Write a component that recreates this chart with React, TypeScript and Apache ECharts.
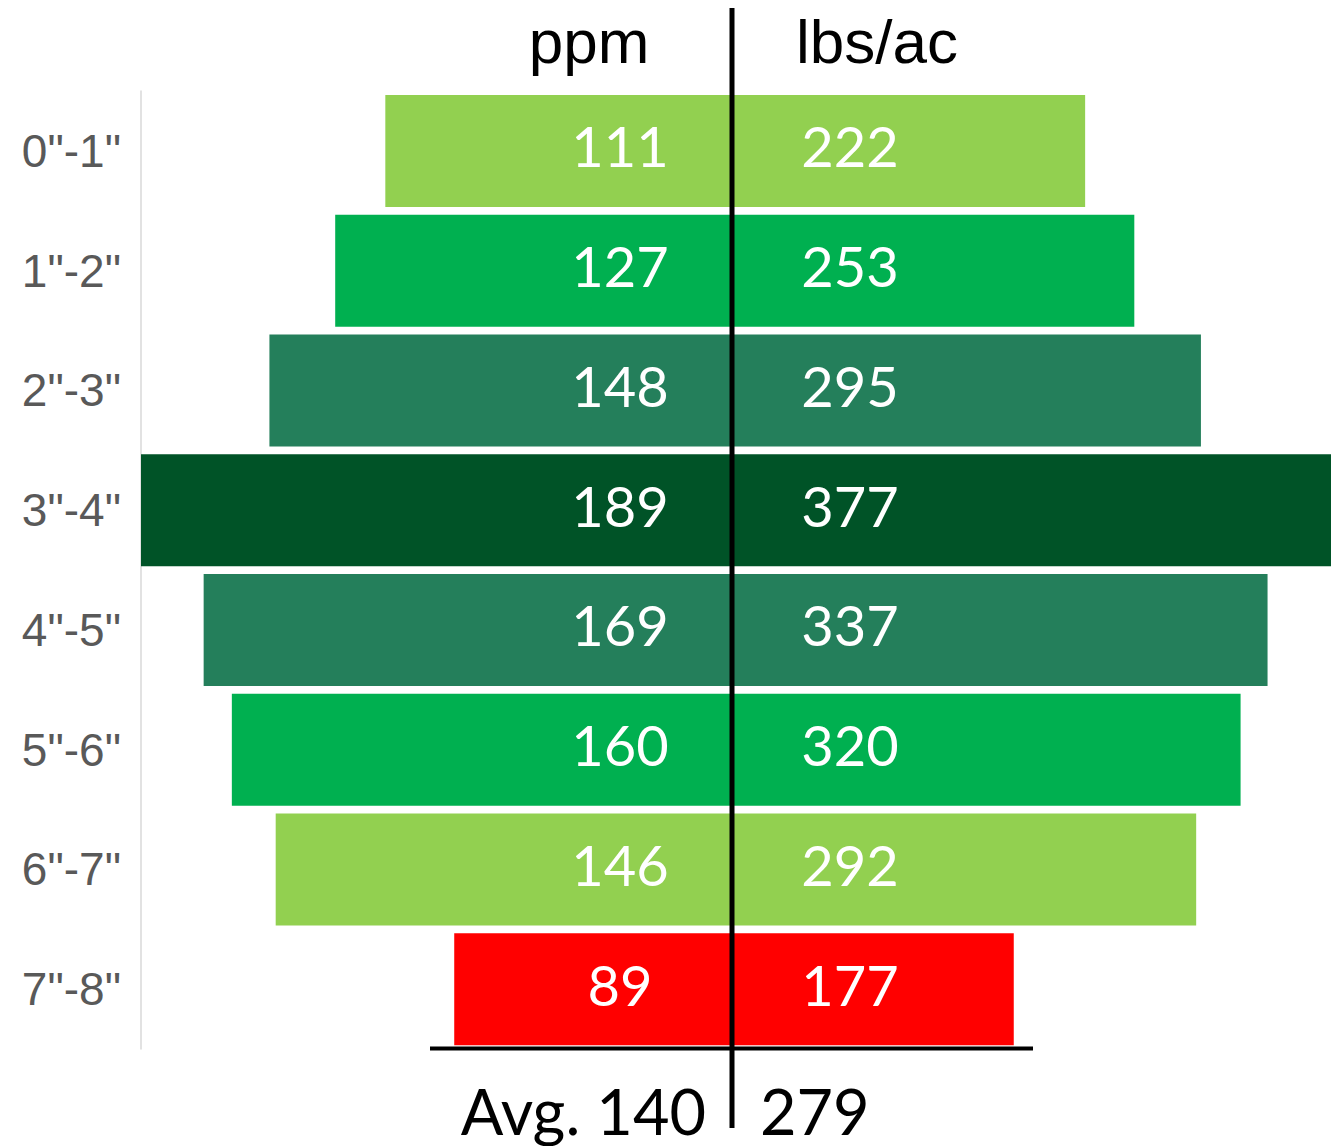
import React, { useEffect, useRef } from "react";
import * as echarts from "echarts";

const categories = ['0"-1"', '1"-2"', '2"-3"', '3"-4"', '4"-5"', '5"-6"', '6"-7"', '7"-8"'];
const ppmValues = [111, 127, 148, 189, 169, 160, 146, 89];
const lbsValues = [222, 253, 295, 377, 337, 320, 292, 177];
const avgPpm = 140;
const avgLbs = 279;
const rowColors = ["#92D050", "#00B050", "#247F5B", "#005327", "#247F5B", "#00B050", "#92D050", "#FF0000"];

const LABEL_FONT = "Lato, 'Open Sans', sans-serif";
const AXIS_FONT = "'Liberation Sans', Arial, sans-serif";

export default function App() {
  const ref = useRef<HTMLDivElement>(null);
  useEffect(() => {
    if (!ref.current) return;
    const chart = echarts.init(ref.current, undefined, { renderer: "svg" });
    const top = 91;
    const height = 958;
    const center = 733;
    chart.setOption({
      animation: false,
      backgroundColor: "#ffffff",
      grid: [
        { left: 141, top, width: center - 141, height },
        { left: center, top, width: 1331 - center, height },
      ],
      xAxis: [
        { gridIndex: 0, type: "value", min: 0, max: 189, inverse: true, show: false },
        { gridIndex: 1, type: "value", min: 0, max: 377, show: false },
      ],
      yAxis: [
        {
          gridIndex: 0,
          type: "category",
          data: categories,
          inverse: true,
          position: "left",
          axisLine: { show: true, onZero: false, lineStyle: { color: "#D9D9D9", width: 1.5 } },
          axisTick: { show: false },
          axisLabel: { fontSize: 46, color: "#595959", fontFamily: AXIS_FONT, margin: 20 },
          splitLine: { show: false },
        },
        {
          gridIndex: 1,
          type: "category",
          data: categories,
          inverse: true,
          show: false,
        },
      ],
      series: [
        {
          type: "bar",
          xAxisIndex: 0,
          yAxisIndex: 0,
          barWidth: 112,
          data: ppmValues.map((v, i) => ({ value: v, itemStyle: { color: rowColors[i] } })),
          label: {
            show: true,
            position: "insideRight",
            distance: 113,
            align: "center",
            verticalAlign: "middle",
            offset: [0, -5],
            color: "#ffffff",
            fontSize: 56,
            fontFamily: LABEL_FONT,
          },
        },
        {
          type: "bar",
          xAxisIndex: 1,
          yAxisIndex: 1,
          barWidth: 112,
          data: lbsValues.map((v, i) => ({ value: v, itemStyle: { color: rowColors[i] } })),
          label: {
            show: true,
            position: "insideLeft",
            distance: 117,
            align: "center",
            verticalAlign: "middle",
            offset: [0, -5],
            color: "#ffffff",
            fontSize: 56,
            fontFamily: LABEL_FONT,
          },
        },
      ],
      graphic: [
        {
          type: "text",
          z: 100,
          style: { text: "ppm", x: 589, y: 41, align: "center", verticalAlign: "middle", fill: "#000", font: `62px ${AXIS_FONT}` },
        },
        {
          type: "text",
          z: 100,
          style: { text: "lbs/ac", x: 877, y: 41, align: "center", verticalAlign: "middle", fill: "#000", font: `62px ${AXIS_FONT}` },
        },
        {
          type: "line",
          z: 100,
          shape: { x1: 430, y1: 1048.5, x2: 1033, y2: 1048.5 },
          style: { stroke: "#000", lineWidth: 4 },
        },
        {
          type: "line",
          z: 100,
          shape: { x1: 732, y1: 8, x2: 732, y2: 1128 },
          style: { stroke: "#000", lineWidth: 5 },
        },
        {
          type: "text",
          z: 100,
          style: { text: `Avg. ${avgPpm}`, x: 706, y: 1110, align: "right", verticalAlign: "middle", fill: "#000", font: `63px ${LABEL_FONT}` },
        },
        {
          type: "text",
          z: 100,
          style: { text: `${avgLbs}`, x: 760, y: 1110, align: "left", verticalAlign: "middle", fill: "#000", font: `63px ${LABEL_FONT}` },
        },
      ],
    });
    return () => chart.dispose();
  }, []);
  return <div ref={ref} style={{ position: "fixed", left: 0, top: 0, width: 1342, height: 1146 }} />;
}
